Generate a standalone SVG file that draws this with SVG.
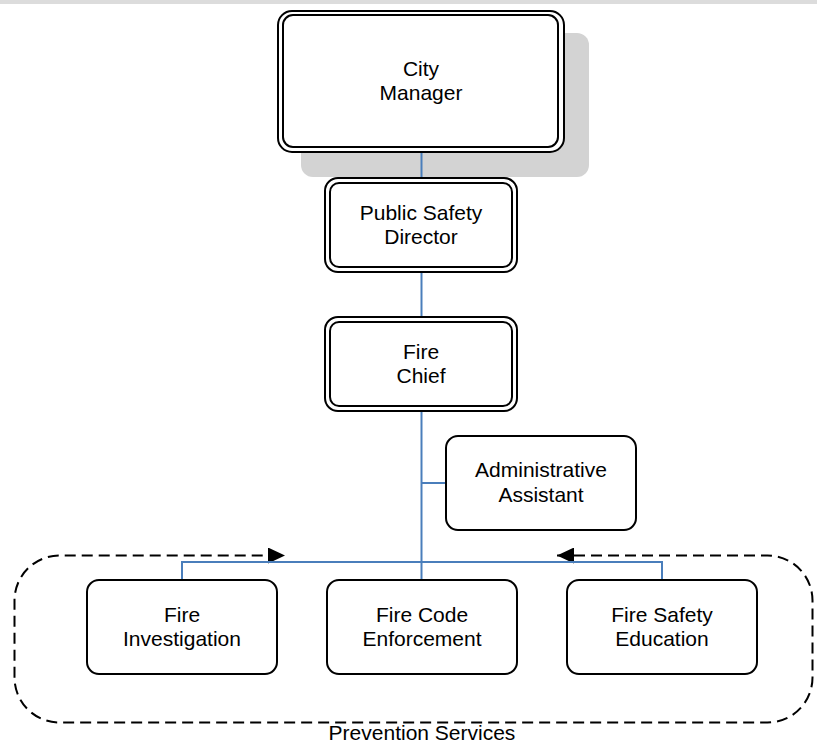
<svg xmlns="http://www.w3.org/2000/svg" width="817" height="744" viewBox="0 0 817 744">
  <style>
    .lbl { font-family: "Liberation Sans", Arial, sans-serif; font-size: 21px; fill: #000; text-anchor: middle; }
    .dbl { fill: none; stroke: #000; stroke-width: 2; }
    .box { fill: #fff; stroke: #000; stroke-width: 2; }
    .link { fill: none; stroke: #4a7ebb; stroke-width: 2; }
    .group { fill: none; stroke: #000; stroke-width: 2; stroke-dasharray: 11 6; }
  </style>
  <defs>
    <marker id="arrow" viewBox="0 0 17 16" refX="17" refY="8" markerWidth="17" markerHeight="16" markerUnits="userSpaceOnUse" orient="auto-start-reverse">
      <path d="M0,0 L17,8 L0,16 z" fill="#000"/>
    </marker>
  </defs>

  <!-- page top band -->
  <rect x="0" y="0" width="817" height="4" fill="#dcdcdc"/>

  <!-- Prevention Services grouping -->
  <g id="prevention-services">
    <path class="group" marker-start="url(#arrow)" marker-end="url(#arrow)"
          d="M557,555.5 H767.5 A45,45 0 0 1 812.5,600.5 V677.5 A45,45 0 0 1 767.5,722.5 H59.5 A45,45 0 0 1 14.5,677.5 V600.5 A45,45 0 0 1 59.5,555.5 H285"/>
    <text class="lbl" x="422" y="740">Prevention Services</text>
  </g>

  <g id="city-manager">
    <rect x="301" y="33" width="288" height="144" rx="12" fill="#d3d3d3"/>
    <rect x="278" y="11" width="286" height="141" rx="14" class="box"/>
    <rect x="283" y="15" width="275" height="132" rx="10" class="dbl"/>
    <text class="lbl" x="421" y="76">City</text>
    <text class="lbl" x="421" y="100">Manager</text>
  </g>

  <!-- reporting lines (drawn over the City Manager shadow) -->
  <g id="connectors">
    <path class="link" d="M421.5,153 V177"/>
    <path class="link" d="M421.5,273 V316"/>
    <path class="link" d="M421.5,412 V579"/>
    <path class="link" d="M421.5,483 H445"/>
    <path class="link" d="M182,579 V562 H662 V579"/>
  </g>

  <g id="public-safety-director">
    <rect x="325" y="178" width="192" height="94" rx="13" class="box"/>
    <rect x="330" y="183" width="182" height="84" rx="9" class="dbl"/>
    <text class="lbl" x="421" y="220">Public Safety</text>
    <text class="lbl" x="421" y="244">Director</text>
  </g>

  <g id="fire-chief">
    <rect x="325" y="317" width="192" height="94" rx="13" class="box"/>
    <rect x="330" y="322" width="182" height="84" rx="9" class="dbl"/>
    <text class="lbl" x="421" y="359">Fire</text>
    <text class="lbl" x="421" y="383">Chief</text>
  </g>

  <g id="administrative-assistant">
    <rect x="446" y="436" width="190" height="94" rx="12" class="box"/>
    <text class="lbl" x="541" y="477">Administrative</text>
    <text class="lbl" x="541" y="502">Assistant</text>
  </g>

  <g id="fire-investigation">
    <rect x="87" y="580" width="190" height="94" rx="12" class="box"/>
    <text class="lbl" x="182" y="622">Fire</text>
    <text class="lbl" x="182" y="646">Investigation</text>
  </g>

  <g id="fire-code-enforcement">
    <rect x="327" y="580" width="190" height="94" rx="12" class="box"/>
    <text class="lbl" x="422" y="622">Fire Code</text>
    <text class="lbl" x="422" y="646">Enforcement</text>
  </g>

  <g id="fire-safety-education">
    <rect x="567" y="580" width="190" height="94" rx="12" class="box"/>
    <text class="lbl" x="662" y="622">Fire Safety</text>
    <text class="lbl" x="662" y="646">Education</text>
  </g>
</svg>
